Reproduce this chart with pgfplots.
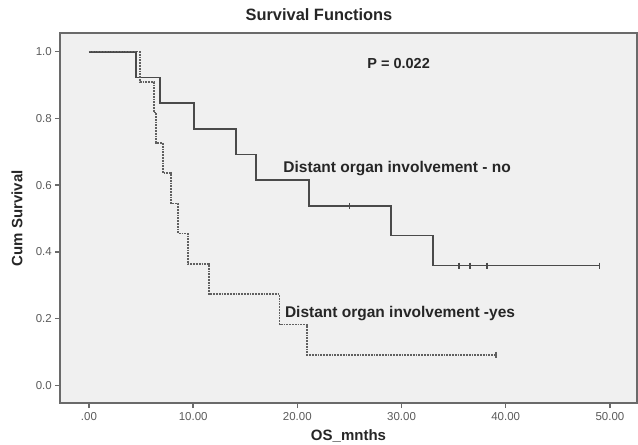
\documentclass[border=0pt]{standalone}
\usepackage{fontspec}
\setmainfont{Liberation Sans}
\usepackage{pgfplots}
\pgfplotsset{compat=1.18}
\definecolor{bgplot}{HTML}{F0F0F0}
\definecolor{frame}{HTML}{6A6A6A}
\definecolor{lineno}{HTML}{4A4A4A}
\definecolor{lineyes}{HTML}{606060}
\definecolor{ticktxt}{HTML}{5A5A5A}
\begin{document}
\begin{tikzpicture}
\begin{axis}[
  scale only axis,
  width=577pt, height=370pt,
  xmin=-2.78, xmax=52.6,
  ymin=-0.053, ymax=1.056,
  axis background/.style={fill=bgplot},
  axis line style={frame, line width=1.5pt},
  tick pos=left,
  tick align=outside,
  major tick length=5pt,
  every tick/.style={frame, line width=1.4pt},
  xtick={0,10,20,30,40,50},
  xticklabels={.00,10.00,20.00,30.00,40.00,50.00},
  ytick={0,0.2,0.4,0.6,0.8,1.0},
  yticklabels={0.0,0.2,0.4,0.6,0.8,1.0},
  ticklabel style={font=\fontsize{11.5}{11.5}\selectfont, text=ticktxt},
  xticklabel style={inner sep=0pt, yshift=-4pt},
  yticklabel style={inner sep=0pt, xshift=-3pt},
  xlabel={OS\_mnths},
  label style={font=\bfseries\fontsize{15}{15}\selectfont, text=black!85},
  xlabel style={at={(rel axis cs:0.5,0)}, anchor=base, yshift=-37.5pt, inner sep=0pt},
  title={Survival Functions},
  title style={font=\bfseries\fontsize{16.4}{16.4}\selectfont, text=black!85, at={(rel axis cs:0.5,1)}, anchor=base, yshift=6pt, xshift=-29.5pt, inner sep=0pt},
  clip=false,
]
% Distant organ involvement - no
\addplot[const plot, lineno, line width=1.7pt] coordinates {
  (0,1) (4.5,0.923) (6.8,0.846) (10.1,0.769) (14.1,0.692) (16.0,0.615)
  (21.1,0.538) (29.0,0.449) (33.0,0.359) (49.0,0.359)
};
\addplot[only marks, mark=|, mark size=3pt, lineno, mark options={line width=1.7pt}] coordinates {
  (25.0,0.538) (35.5,0.359) (36.6,0.359) (38.2,0.359) (49.0,0.359)
};
% Distant organ involvement - yes
\addplot[const plot, lineyes, line width=1.6pt, dash pattern=on 1.8pt off 1pt] coordinates {
  (0,1) (4.9,0.909) (6.25,0.818) (6.45,0.727) (7.1,0.636) (7.85,0.545)
  (8.55,0.455) (9.5,0.364) (11.5,0.273) (18.3,0.182) (20.95,0.091) (39.05,0.091)
};
\addplot[only marks, mark=|, mark size=3pt, lineyes, mark options={line width=1.7pt, solid}] coordinates {
  (39.05,0.091)
};
\node[font=\bfseries\fontsize{14.5}{14.5}\selectfont, text=black!85, anchor=base, inner sep=0pt] at (axis cs:29.72,0.951) {P = 0.022};
\node[font=\bfseries\fontsize{15.5}{15.5}\selectfont, text=black!85, anchor=base west, inner sep=0pt] at (axis cs:18.65,0.6375) {Distant organ involvement - no};
\node[font=\bfseries\fontsize{15.5}{15.5}\selectfont, text=black!85, anchor=base west, inner sep=0pt] at (axis cs:18.8,0.2025) {Distant organ involvement -yes};
\node[font=\bfseries\fontsize{15}{15}\selectfont, text=black!85, rotate=90, anchor=center, inner sep=0pt] at (axis cs:-6.91,0.501) {Cum Survival};
\end{axis}
\pgfresetboundingbox
\path (current axis.south west) +(-60pt,-41pt) (current axis.north east) +(1pt,33pt);
\end{tikzpicture}
\end{document}
